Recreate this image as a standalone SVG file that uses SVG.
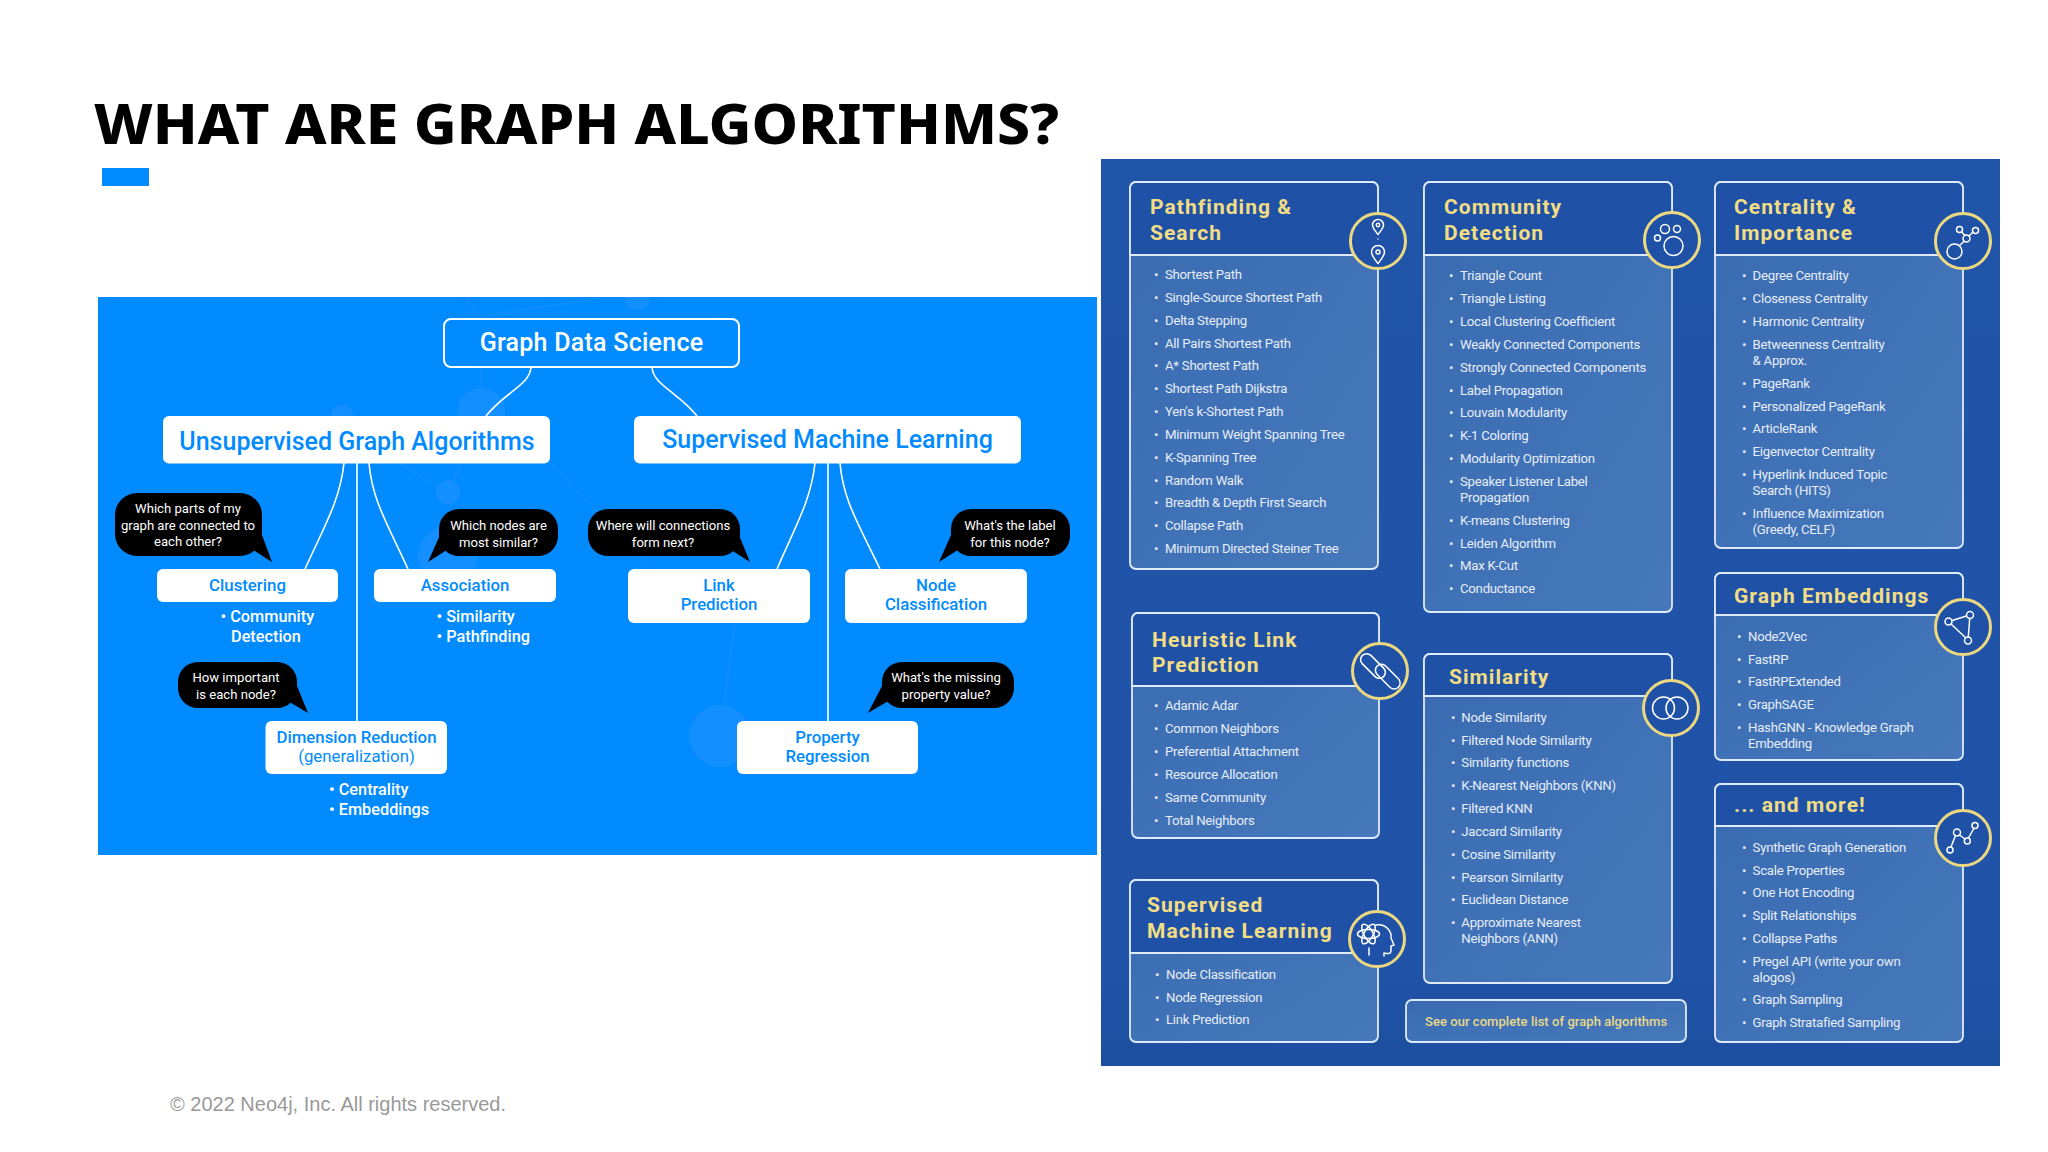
<svg xmlns="http://www.w3.org/2000/svg" width="2048" height="1152" viewBox="0 0 2048 1152">
<style>
text{font-family:"Roboto","Liberation Sans",sans-serif}
.title{font-family:"Noto Sans","Open Sans",sans-serif;font-size:56px;font-weight:800;fill:#000}
.foot{font-family:"Liberation Sans",Arial,sans-serif;font-size:20px;fill:#999}
.gdsT{font-size:25px;font-weight:500;fill:#fff;text-anchor:middle;letter-spacing:.25px}
.big{font-size:25px;font-weight:500;fill:#018bff;text-anchor:middle}
.sm{font-size:16.800px;font-weight:500;fill:#018bff;text-anchor:middle}
.smr{font-size:16.800px;font-weight:400;fill:#018bff;text-anchor:middle}
.wh{font-size:16.300px;font-weight:500;fill:#fff}
.bt{font-size:13.100px;fill:#fff;text-anchor:middle}
.wbox{fill:#fff}
.bub{fill:#000}
.conn{fill:none;stroke:#fff;stroke-width:1.6}
.faint{fill:#138fff;stroke:none}
.fl{stroke:#0f8fff;stroke-width:2;fill:none}
.panel{fill:url(#pg)}
.body{fill:url(#bg);stroke:#dfeaf8;stroke-width:1.8}
.hd{fill:#1f52a6;stroke:#dfeaf8;stroke-width:1.8}
.h{font-size:21px;font-weight:700;fill:#f2dd85;letter-spacing:1.05px}
.li{font-size:13.200px;fill:#e6eef9;letter-spacing:-.25px}
.ring{fill:#1f52a6;stroke:#ecd880;stroke-width:3}
.ic{fill:none;stroke:#fff;stroke-width:1.5;stroke-linecap:round;stroke-linejoin:round}
.see{font-size:13px;font-weight:500;fill:#e9d98a;letter-spacing:.05px}
</style>
<defs>
<linearGradient id="bg" x1="0" y1="0" x2="1" y2="1"><stop offset="0" stop-color="#3a6bb2"/><stop offset="1" stop-color="#4678bb"/></linearGradient>
<linearGradient id="pg" x1="0" y1="0" x2="0" y2="1"><stop offset="0" stop-color="#2155a9"/><stop offset=".9" stop-color="#2053a8"/><stop offset="1" stop-color="#1d4f9f"/></linearGradient>
<clipPath id="pc"><rect x="98" y="297" width="999" height="558"/></clipPath>
</defs>
<rect width="2048" height="1152" fill="#fff"/>
<text class="title" x="94" y="144" textLength="965" lengthAdjust="spacingAndGlyphs">WHAT ARE GRAPH ALGORITHMS?</text>
<rect x="102" y="168" width="47" height="18" fill="#018bff"/>
<text class="foot" x="170" y="1111">© 2022 Neo4j, Inc. All rights reserved.</text>

<g id="left-panel">
<rect x="98" y="297" width="999" height="558" fill="#018bff"/>
<g id="backdrop" clip-path="url(#pc)">
<path class="fl" d="M465 297L482 320M482 316L600 298M481 320V410M550 463L700 620M398 463L448 492M462 463L448 492M735 623L724 705"/>
<circle class="faint" cx="637" cy="297" r="13"/><circle class="faint" cx="481" cy="412" r="24"/><circle class="faint" cx="342" cy="416" r="11"/><circle class="faint" cx="448" cy="492" r="12"/><circle class="faint" cx="448" cy="556" r="30"/><circle class="faint" cx="720" cy="736" r="31"/>
</g>
</g>

<g id="connectors">
<path class="conn" d="M531 367C530 385 505 392 486 416"/>
<path class="conn" d="M652 367C653 385 678 392 697 416"/>
<path class="conn" d="M344 463C340 500 325 525 305 569"/>
<path class="conn" d="M369 463C372 500 388 525 408 569"/>
<path class="conn" d="M357 463V721"/>
<path class="conn" d="M815 463C811 500 796 525 777 569"/>
<path class="conn" d="M840 463C843 500 859 525 880 569"/>
<path class="conn" d="M828 463V721"/>
</g>

<g id="gds"><rect x="444" y="319" width="295" height="48" rx="7" fill="#018bff" stroke="#fff" stroke-width="2"/><text class="gdsT" x="591.500" y="351">Graph Data Science</text></g>
<g id="unsupervised"><rect class="wbox" x="163" y="416" width="387" height="47.500" rx="6"/><text class="big" x="357" y="450">Unsupervised Graph Algorithms</text></g>
<g id="supervised"><rect class="wbox" x="634" y="416" width="387" height="47.500" rx="6"/><text class="big" x="827.500" y="448">Supervised Machine Learning</text></g>

<g id="clustering"><rect class="wbox" x="157" y="569" width="181" height="33" rx="6"/><text class="sm" x="247.500" y="591">Clustering</text>
<text class="wh" x="220.500" y="622">• Community</text><text class="wh" x="231" y="641.500">Detection</text></g>
<g id="association"><rect class="wbox" x="374" y="569" width="182" height="33" rx="6"/><text class="sm" x="465" y="591">Association</text>
<text class="wh" x="436.500" y="622">• Similarity</text><text class="wh" x="436.500" y="641.500">• Pathfinding</text></g>
<g id="link"><rect class="wbox" x="628" y="569" width="182" height="54" rx="6"/><text class="sm" x="719" y="591">Link</text><text class="sm" x="719" y="610">Prediction</text></g>
<g id="nodeclass"><rect class="wbox" x="845" y="569" width="182" height="54" rx="6"/><text class="sm" x="936" y="591">Node</text><text class="sm" x="936" y="610">Classification</text></g>
<g id="dimred"><rect class="wbox" x="265.500" y="721" width="181.500" height="53" rx="6"/><text class="sm" x="356.500" y="743">Dimension Reduction</text><text class="smr" x="356.500" y="762">(generalization)</text>
<text class="wh" x="329" y="795">• Centrality</text><text class="wh" x="329" y="815">• Embeddings</text></g>
<g id="property"><rect class="wbox" x="737" y="721" width="181" height="53" rx="6"/><text class="sm" x="827.500" y="743">Property</text><text class="sm" x="827.500" y="762">Regression</text></g>

<g id="bubble1"><rect class="bub" x="115" y="493" width="147" height="63" rx="22"/><path class="bub" d="M250 548L272 562L262 535Z"/><text class="bt" x="188" y="513">Which parts of my</text><text class="bt" x="188" y="529.500">graph are connected to</text><text class="bt" x="188" y="546">each other?</text></g>
<g id="bubble2"><rect class="bub" x="439" y="509" width="119" height="47" rx="20"/><path class="bub" d="M450 548L428 562L440 535Z"/><text class="bt" x="498.500" y="530">Which nodes are</text><text class="bt" x="498.500" y="546.500">most similar?</text></g>
<g id="bubble3"><rect class="bub" x="588" y="509" width="152" height="47" rx="20"/><path class="bub" d="M728 548L750 562L739 535Z"/><text class="bt" x="663" y="530">Where will connections</text><text class="bt" x="663" y="546.500">form next?</text></g>
<g id="bubble4"><rect class="bub" x="951" y="509" width="119" height="47" rx="20"/><path class="bub" d="M961 548L939 562L951 535Z"/><text class="bt" x="1010" y="530">What's the label</text><text class="bt" x="1010" y="546.500">for this node?</text></g>
<g id="bubble5"><rect class="bub" x="178" y="662" width="119" height="46" rx="20"/><path class="bub" d="M286 700L308 713L297 686Z"/><text class="bt" x="236" y="682">How important</text><text class="bt" x="236" y="699">is each node?</text></g>
<g id="bubble6"><rect class="bub" x="882" y="662" width="132" height="46" rx="20"/><path class="bub" d="M890 700L868 713L882 686Z"/><text class="bt" x="946" y="682">What's the missing</text><text class="bt" x="946" y="699">property value?</text></g>

<rect class="panel" x="1101" y="159" width="899" height="907"/>

<g id="pathfinding">
<rect class="body" x="1130" y="182" width="248" height="387" rx="6"/>
<path class="hd" d="M1130 255V188a6 6 0 0 1 6-6H1372a6 6 0 0 1 6 6V255Z"/>
<text class="h" x="1150" y="213.500">Pathfinding &amp;</text><text class="h" x="1150" y="239.500">Search</text>
<circle class="ring" cx="1378" cy="241" r="27.500"/>
<path class="ic" d="M1378 234.500c-3-4-5.500-6.500-5.500-9.500a5.500 5.500 0 0 1 11 0c0 3-2.500 5.500-5.500 9.500Z"/><circle class="ic" cx="1378" cy="225" r="1.700"/>
<path class="ic" d="M1378 263.500c-3.500-4.500-6.500-8-6.500-11.500a6.500 6.500 0 0 1 13 0c0 3.500-3 7-6.500 11.500Z"/><circle class="ic" cx="1378" cy="252" r="2"/>
<circle cx="1378" cy="239" r=".7" fill="#fff"/>
<text class="li"><tspan x="1154" y="279">•</tspan><tspan x="1165" y="279">Shortest Path</tspan></text>
<text class="li"><tspan x="1154" y="301.900">•</tspan><tspan x="1165" y="301.900">Single-Source Shortest Path</tspan></text>
<text class="li"><tspan x="1154" y="324.700">•</tspan><tspan x="1165" y="324.700">Delta Stepping</tspan></text>
<text class="li"><tspan x="1154" y="347.500">•</tspan><tspan x="1165" y="347.500">All Pairs Shortest Path</tspan></text>
<text class="li"><tspan x="1154" y="370.300">•</tspan><tspan x="1165" y="370.300">A* Shortest Path</tspan></text>
<text class="li"><tspan x="1154" y="393.200">•</tspan><tspan x="1165" y="393.200">Shortest Path Dijkstra</tspan></text>
<text class="li"><tspan x="1154" y="416">•</tspan><tspan x="1165" y="416">Yen's k-Shortest Path</tspan></text>
<text class="li"><tspan x="1154" y="438.800">•</tspan><tspan x="1165" y="438.800">Minimum Weight Spanning Tree</tspan></text>
<text class="li"><tspan x="1154" y="461.700">•</tspan><tspan x="1165" y="461.700">K-Spanning Tree</tspan></text>
<text class="li"><tspan x="1154" y="484.500">•</tspan><tspan x="1165" y="484.500">Random Walk</tspan></text>
<text class="li"><tspan x="1154" y="507.300">•</tspan><tspan x="1165" y="507.300">Breadth &amp; Depth First Search</tspan></text>
<text class="li"><tspan x="1154" y="530.200">•</tspan><tspan x="1165" y="530.200">Collapse Path</tspan></text>
<text class="li"><tspan x="1154" y="553">•</tspan><tspan x="1165" y="553">Minimum Directed Steiner Tree</tspan></text>
</g>

<g id="community">
<rect class="body" x="1424" y="182" width="248" height="430" rx="6"/>
<path class="hd" d="M1424 255V188a6 6 0 0 1 6-6H1666a6 6 0 0 1 6 6V255Z"/>
<text class="h" x="1444" y="213.500">Community</text><text class="h" x="1444" y="239.500">Detection</text>
<circle class="ring" cx="1672" cy="240" r="27.500"/>
<circle class="ic" cx="1673.500" cy="246" r="9.500"/><circle class="ic" cx="1665" cy="229" r="4.500"/><circle class="ic" cx="1677" cy="229" r="3.500"/><circle class="ic" cx="1657.500" cy="238" r="3"/>
<text class="li"><tspan x="1449" y="280.300">•</tspan><tspan x="1460" y="280.300">Triangle Count</tspan></text>
<text class="li"><tspan x="1449" y="303.100">•</tspan><tspan x="1460" y="303.100">Triangle Listing</tspan></text>
<text class="li"><tspan x="1449" y="326">•</tspan><tspan x="1460" y="326">Local Clustering Coefficient</tspan></text>
<text class="li"><tspan x="1449" y="348.800">•</tspan><tspan x="1460" y="348.800">Weakly Connected Components</tspan></text>
<text class="li"><tspan x="1449" y="371.600">•</tspan><tspan x="1460" y="371.600">Strongly Connected Components</tspan></text>
<text class="li"><tspan x="1449" y="394.500">•</tspan><tspan x="1460" y="394.500">Label Propagation</tspan></text>
<text class="li"><tspan x="1449" y="417.300">•</tspan><tspan x="1460" y="417.300">Louvain Modularity</tspan></text>
<text class="li"><tspan x="1449" y="440.100">•</tspan><tspan x="1460" y="440.100">K-1 Coloring</tspan></text>
<text class="li"><tspan x="1449" y="463">•</tspan><tspan x="1460" y="463">Modularity Optimization</tspan></text>
<text class="li"><tspan x="1449" y="485.800">•</tspan><tspan x="1460" y="485.800">Speaker Listener Label</tspan><tspan x="1460" y="501.800">Propagation</tspan></text>
<text class="li"><tspan x="1449" y="524.700">•</tspan><tspan x="1460" y="524.700">K-means Clustering</tspan></text>
<text class="li"><tspan x="1449" y="547.500">•</tspan><tspan x="1460" y="547.500">Leiden Algorithm</tspan></text>
<text class="li"><tspan x="1449" y="570.300">•</tspan><tspan x="1460" y="570.300">Max K-Cut</tspan></text>
<text class="li"><tspan x="1449" y="593.200">•</tspan><tspan x="1460" y="593.200">Conductance</tspan></text>
</g>

<g id="centrality">
<rect class="body" x="1715" y="182" width="248" height="366" rx="6"/>
<path class="hd" d="M1715 255V188a6 6 0 0 1 6-6H1957a6 6 0 0 1 6 6V255Z"/>
<text class="h" x="1734" y="213.500">Centrality &amp;</text><text class="h" x="1734" y="239.500">Importance</text>
<circle class="ring" cx="1963" cy="241" r="27.500"/>
<circle class="ic" cx="1954.500" cy="251.500" r="7.500"/><circle class="ic" cx="1966.500" cy="238.500" r="3.500"/><circle class="ic" cx="1959.500" cy="229.500" r="3"/><circle class="ic" cx="1975.500" cy="230.500" r="3"/>
<path class="ic" d="M1959.500 245.500L1964 241.500M1961.500 232L1965 235.500M1973 232L1969 236"/>
<text class="li"><tspan x="1742" y="280.300">•</tspan><tspan x="1752.600" y="280.300">Degree Centrality</tspan></text>
<text class="li"><tspan x="1742" y="303.100">•</tspan><tspan x="1752.600" y="303.100">Closeness Centrality</tspan></text>
<text class="li"><tspan x="1742" y="326">•</tspan><tspan x="1752.600" y="326">Harmonic Centrality</tspan></text>
<text class="li"><tspan x="1742" y="348.800">•</tspan><tspan x="1752.600" y="348.800">Betweenness Centrality</tspan><tspan x="1752.600" y="364.800">&amp; Approx.</tspan></text>
<text class="li"><tspan x="1742" y="387.700">•</tspan><tspan x="1752.600" y="387.700">PageRank</tspan></text>
<text class="li"><tspan x="1742" y="410.500">•</tspan><tspan x="1752.600" y="410.500">Personalized PageRank</tspan></text>
<text class="li"><tspan x="1742" y="433.300">•</tspan><tspan x="1752.600" y="433.300">ArticleRank</tspan></text>
<text class="li"><tspan x="1742" y="456.200">•</tspan><tspan x="1752.600" y="456.200">Eigenvector Centrality</tspan></text>
<text class="li"><tspan x="1742" y="479">•</tspan><tspan x="1752.600" y="479">Hyperlink Induced Topic</tspan><tspan x="1752.600" y="495">Search (HITS)</tspan></text>
<text class="li"><tspan x="1742" y="517.700">•</tspan><tspan x="1752.600" y="517.700">Influence Maximization</tspan><tspan x="1752.600" y="533.700">(Greedy, CELF)</tspan></text>
</g>

<g id="embeddings">
<rect class="body" x="1715" y="573" width="248" height="187" rx="6"/>
<path class="hd" d="M1715 615V579a6 6 0 0 1 6-6H1957a6 6 0 0 1 6 6V615Z"/>
<text class="h" x="1734" y="602.500">Graph Embeddings</text>
<circle class="ring" cx="1963" cy="627" r="27.500"/>
<circle class="ic" cx="1948.500" cy="621.500" r="3.500"/><circle class="ic" cx="1970" cy="615" r="3.500"/><circle class="ic" cx="1968" cy="640.500" r="3.500"/>
<path class="ic" d="M1952 620.500L1966.500 616M1969.700 618.500L1968.300 637M1951 624L1965.700 637.800"/>
<text class="li"><tspan x="1737" y="640.700">•</tspan><tspan x="1748" y="640.700">Node2Vec</tspan></text>
<text class="li"><tspan x="1737" y="663.500">•</tspan><tspan x="1748" y="663.500">FastRP</tspan></text>
<text class="li"><tspan x="1737" y="686.300">•</tspan><tspan x="1748" y="686.300">FastRPExtended</tspan></text>
<text class="li"><tspan x="1737" y="709.200">•</tspan><tspan x="1748" y="709.200">GraphSAGE</tspan></text>
<text class="li"><tspan x="1737" y="732">•</tspan><tspan x="1748" y="732">HashGNN - Knowledge Graph</tspan><tspan x="1748" y="748">Embedding</tspan></text>
</g>

<g id="more">
<rect class="body" x="1715" y="784" width="248" height="258" rx="6"/>
<path class="hd" d="M1715 826V790a6 6 0 0 1 6-6H1957a6 6 0 0 1 6 6V826Z"/>
<text class="h" x="1734" y="812">... and more!</text>
<circle class="ring" cx="1963" cy="838" r="27.500"/>
<circle class="ic" cx="1950" cy="850" r="3"/><circle class="ic" cx="1957" cy="832.500" r="3.500"/><circle class="ic" cx="1967.300" cy="841" r="3"/><circle class="ic" cx="1975" cy="825.500" r="3"/>
<path class="ic" d="M1951 847L1955.500 835.500M1959.500 835L1965 839M1968.500 838L1973.800 828.500"/>
<text class="li"><tspan x="1742" y="851.700">•</tspan><tspan x="1752.600" y="851.700">Synthetic Graph Generation</tspan></text>
<text class="li"><tspan x="1742" y="874.500">•</tspan><tspan x="1752.600" y="874.500">Scale Properties</tspan></text>
<text class="li"><tspan x="1742" y="897.300">•</tspan><tspan x="1752.600" y="897.300">One Hot Encoding</tspan></text>
<text class="li"><tspan x="1742" y="920.200">•</tspan><tspan x="1752.600" y="920.200">Split Relationships</tspan></text>
<text class="li"><tspan x="1742" y="943">•</tspan><tspan x="1752.600" y="943">Collapse Paths</tspan></text>
<text class="li"><tspan x="1742" y="966">•</tspan><tspan x="1752.600" y="966">Pregel API (write your own</tspan><tspan x="1752.600" y="982">alogos)</tspan></text>
<text class="li"><tspan x="1742" y="1004.300">•</tspan><tspan x="1752.600" y="1004.300">Graph Sampling</tspan></text>
<text class="li"><tspan x="1742" y="1027">•</tspan><tspan x="1752.600" y="1027">Graph Stratafied Sampling</tspan></text>
</g>

<g id="similarity">
<rect class="body" x="1424" y="654" width="248" height="329" rx="6"/>
<path class="hd" d="M1424 696V660a6 6 0 0 1 6-6H1666a6 6 0 0 1 6 6V696Z"/>
<text class="h" x="1449" y="683.500">Similarity</text>
<circle class="ring" cx="1671" cy="708" r="27.500"/>
<circle class="ic" cx="1663.500" cy="708" r="11"/><circle class="ic" cx="1677" cy="708" r="11"/>
<text class="li"><tspan x="1451" y="721.700">•</tspan><tspan x="1461.300" y="721.700">Node Similarity</tspan></text>
<text class="li"><tspan x="1451" y="744.500">•</tspan><tspan x="1461.300" y="744.500">Filtered Node Similarity</tspan></text>
<text class="li"><tspan x="1451" y="767.300">•</tspan><tspan x="1461.300" y="767.300">Similarity functions</tspan></text>
<text class="li"><tspan x="1451" y="790.200">•</tspan><tspan x="1461.300" y="790.200">K-Nearest Neighbors (KNN)</tspan></text>
<text class="li"><tspan x="1451" y="813">•</tspan><tspan x="1461.300" y="813">Filtered KNN</tspan></text>
<text class="li"><tspan x="1451" y="835.800">•</tspan><tspan x="1461.300" y="835.800">Jaccard Similarity</tspan></text>
<text class="li"><tspan x="1451" y="858.700">•</tspan><tspan x="1461.300" y="858.700">Cosine Similarity</tspan></text>
<text class="li"><tspan x="1451" y="881.500">•</tspan><tspan x="1461.300" y="881.500">Pearson Similarity</tspan></text>
<text class="li"><tspan x="1451" y="904.300">•</tspan><tspan x="1461.300" y="904.300">Euclidean Distance</tspan></text>
<text class="li"><tspan x="1451" y="927.200">•</tspan><tspan x="1461.300" y="927.200">Approximate Nearest</tspan><tspan x="1461.300" y="943">Neighbors (ANN)</tspan></text>
</g>

<g id="seelist">
<rect class="body" x="1406" y="1000" width="280" height="42" rx="6"/>
<text class="see" x="1425" y="1025.700">See our complete list of graph algorithms</text>
</g>

<g id="heuristic">
<rect class="body" x="1132" y="613" width="247" height="225" rx="6"/>
<path class="hd" d="M1132 686V619a6 6 0 0 1 6-6H1373a6 6 0 0 1 6 6V686Z"/>
<text class="h" x="1152" y="646.500">Heuristic Link</text><text class="h" x="1152" y="671.500">Prediction</text>
<circle class="ring" cx="1380" cy="671" r="27.500"/>
<rect class="ic" x="1358" y="660" width="30" height="12" rx="6" transform="rotate(45 1373 666)"/><rect class="ic" x="1372.800" y="670.600" width="30" height="12" rx="6" transform="rotate(45 1387.800 676.600)"/>
<text class="li"><tspan x="1154" y="710.300">•</tspan><tspan x="1165" y="710.300">Adamic Adar</tspan></text>
<text class="li"><tspan x="1154" y="733.200">•</tspan><tspan x="1165" y="733.200">Common Neighbors</tspan></text>
<text class="li"><tspan x="1154" y="756">•</tspan><tspan x="1165" y="756">Preferential Attachment</tspan></text>
<text class="li"><tspan x="1154" y="778.800">•</tspan><tspan x="1165" y="778.800">Resource Allocation</tspan></text>
<text class="li"><tspan x="1154" y="801.700">•</tspan><tspan x="1165" y="801.700">Same Community</tspan></text>
<text class="li"><tspan x="1154" y="824.500">•</tspan><tspan x="1165" y="824.500">Total Neighbors</tspan></text>
</g>

<g id="supervised-card">
<rect class="body" x="1130" y="880" width="248" height="162" rx="6"/>
<path class="hd" d="M1130 953V886a6 6 0 0 1 6-6H1372a6 6 0 0 1 6 6V953Z"/>
<text class="h" x="1147" y="911.500">Supervised</text><text class="h" x="1147" y="937.500">Machine Learning</text>
<circle class="ring" cx="1377" cy="939" r="27.500"/>
<ellipse class="ic" cx="1368.500" cy="934" rx="11" ry="4.500"/><ellipse class="ic" cx="1368.500" cy="934" rx="11" ry="4.500" transform="rotate(60 1368.500 934)"/><ellipse class="ic" cx="1368.500" cy="934" rx="11" ry="4.500" transform="rotate(-60 1368.500 934)"/>
<path class="ic" d="M1376 925C1386 923 1392 932 1391 938L1394 945L1391 946V951C1391 954 1388 954 1384 953V956M1369 948V955"/>
<text class="li"><tspan x="1155" y="978.700">•</tspan><tspan x="1166" y="978.700">Node Classification</tspan></text>
<text class="li"><tspan x="1155" y="1001.500">•</tspan><tspan x="1166" y="1001.500">Node Regression</tspan></text>
<text class="li"><tspan x="1155" y="1024.300">•</tspan><tspan x="1166" y="1024.300">Link Prediction</tspan></text>
</g>
</svg>
